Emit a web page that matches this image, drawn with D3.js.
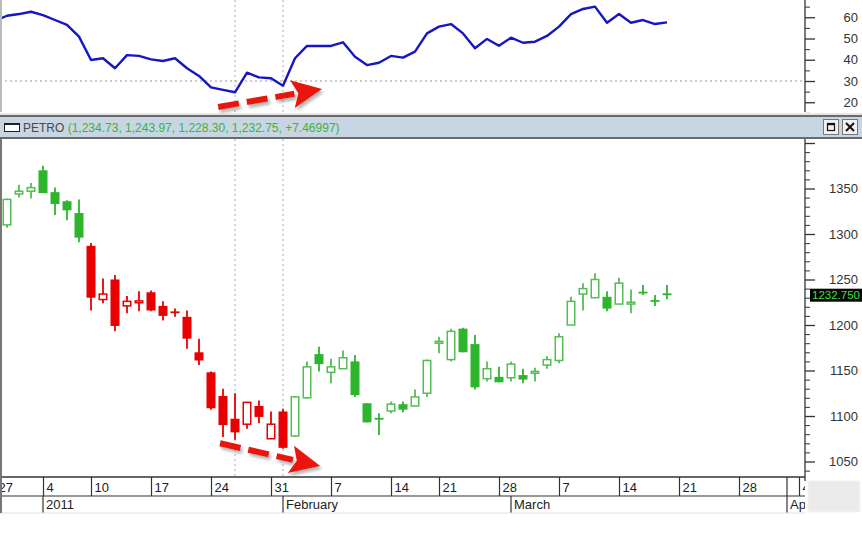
<!DOCTYPE html>
<html><head><meta charset="utf-8">
<script src="https://cdn.jsdelivr.net/npm/d3@7"></script>
<style>
body{margin:0;background:#fff;}
svg{display:block;font-family:"Liberation Sans",Arial,sans-serif;}
</style></head><body>
<svg id="c" width="862" height="534"></svg>
<script>
// ---------- DATA ----------
const tradingDays = [
 "2010-12-27","2010-12-28","2010-12-29","2010-12-30",
 "2011-01-04","2011-01-05","2011-01-06","2011-01-07",
 "2011-01-10","2011-01-11","2011-01-12","2011-01-13","2011-01-14",
 "2011-01-17","2011-01-18","2011-01-19","2011-01-20","2011-01-21",
 "2011-01-24","2011-01-25","2011-01-26","2011-01-27","2011-01-28",
 "2011-01-31","2011-02-01","2011-02-02","2011-02-03","2011-02-04",
 "2011-02-07","2011-02-08","2011-02-09","2011-02-10","2011-02-11",
 "2011-02-14","2011-02-15","2011-02-16","2011-02-17",
 "2011-02-21","2011-02-22","2011-02-23","2011-02-24","2011-02-25",
 "2011-02-28","2011-03-01","2011-03-02","2011-03-03","2011-03-04",
 "2011-03-07","2011-03-08","2011-03-09","2011-03-10","2011-03-11",
 "2011-03-14","2011-03-15","2011-03-16","2011-03-17","2011-03-18",
 "2011-03-21","2011-03-22","2011-03-23","2011-03-24","2011-03-25",
 "2011-03-28","2011-03-29","2011-03-30","2011-03-31","2011-04-01",
 "2011-04-04","2011-04-05"
];
const candleStart = "2010-12-28";
const opens  = [1310,1344,1347,1370,1346,1336,1323,1287,1228,1250,1221,1226,1236,1221,1215,1209,1170,1148,1122,1097,1091,1111,1075,1105,1078,1120,1168,1148,1152,1160,1114,1098,1105.5,1113,1111,1125,1181,1162,1196,1179,1141,1143,1142,1145,1148,1156,1161,1200,1234,1230,1231,1223,1224.5,1236.6,1227.5,1234.73];
const highs  = [1339,1354,1356,1375,1351,1337,1338,1290,1251,1255,1232,1237,1238,1226,1218,1216,1185,1149,1130,1125,1115,1117,1105,1108,1122,1160,1176,1163,1172,1167,1114,1103,1116,1116,1129,1162,1187,1196,1197,1189,1160,1154,1160,1152,1153,1166,1191,1231,1246,1257,1237,1252,1239,1244,1233,1243.97];
const lows   = [1307,1340,1339,1345,1321,1315,1291,1216,1224,1193,1213,1215,1215,1205,1209,1174,1156,1107,1077,1074,1086,1092,1075,1064,1077,1119,1149,1136,1152,1121,1093,1079,1103,1104,1111,1121,1169,1160,1170,1129,1138,1137,1138,1136,1138,1152,1158,1200,1216,1230,1215,1223,1213,1233,1221,1228.30];
const closes = [1338,1347,1351,1345,1333,1326,1296,1230,1234,1199,1226,1226.5,1216,1210,1213.5,1185,1161,1108.5,1090,1082,1115,1099,1091,1065,1121,1154,1157,1154,1164,1123,1093,1097.5,1113,1107,1121,1161,1182,1193,1170,1131.5,1152,1137,1157,1140,1149,1162,1187,1226,1240,1250,1218,1246,1225,1236,1227,1232.75];
const redFrom = "2011-01-10", redTo = "2011-02-01";

const rsiStart = "2010-12-27";
const rsiValues = [58.3,60.7,61.5,62.6,61,58.7,56.4,50.9,39.9,40.7,36,42.2,41.8,40.2,39.4,40.7,36,32.4,27,25.8,24.7,33.9,31.7,31.3,27.8,40.7,46.5,46.5,46.5,48.2,41.4,37.5,38.6,41.8,41,43.8,52.4,55.6,56.8,52.4,45.4,49.8,46.6,50.4,48,48.5,51.2,55.6,61.5,63.9,65,57.4,61.5,57.4,58.7,56.8,57.6];

const rsiTicks = [20,30,40,50,60];
const priceTicks = [1050,1100,1150,1200,1250,1300,1350,1400];
const priceLabels = [1050,1100,1150,1200,1250,1300,1350];
const monthLabels = [["2011-01-04","2011"],["2011-02-01","February"],["2011-03-01","March"],["2011-04-01","April"]];
const markerDays = ["2011-01-26","2011-02-01"];
const titleName = "PETRO";
const titleValues = "(1,234.73, 1,243.97, 1,228.30, 1,232.75, +7.46997)";
const lastPrice = 1232.75;
// annotation arrows: [dayIndex, value] from -> to
const rsiArrow = [[18.6,17.8],[27.25,26.2]];
const priceArrow = [[18.75,1070],[27.1,1045]];

// ---------- SETUP ----------
const svg = d3.select("#c");
const W = 862, axisX = 805;
const topP = {y0:0, y1:112};
const mainP = {y0:139, y1:477};

const x = d3.scaleLinear().domain([0, tradingDays.length-1]).range([-5, -5 + 12*(tradingDays.length-1)]);
const idx = d => tradingDays.indexOf(d);
const rsiY = d3.scaleLinear().domain([20,60]).range([102.25,17.25]);
const pY = d3.scaleLinear().domain([1050,1350]).range([461.5,188.5]);

const defs = svg.append("defs");
defs.append("clipPath").attr("id","clipTop").append("rect").attr("x",0).attr("y",topP.y0).attr("width",axisX).attr("height",topP.y1-topP.y0);
defs.append("clipPath").attr("id","clipMain").append("rect").attr("x",0).attr("y",mainP.y0).attr("width",axisX).attr("height",mainP.y1-mainP.y0);
defs.append("clipPath").attr("id","clipAxis").append("rect").attr("x",0).attr("y",477).attr("width",axisX).attr("height",40);
const f = defs.append("filter").attr("id","shadow").attr("x","-20%").attr("y","-50%").attr("width","140%").attr("height","200%");
f.append("feDropShadow").attr("dx",2).attr("dy",3).attr("stdDeviation",1.6).attr("flood-color","#777").attr("flood-opacity",0.55);

svg.append("rect").attr("width",W).attr("height",534).attr("fill","#fff");

// ---------- TOP PANEL (RSI) ----------
const gTop = svg.append("g").attr("clip-path","url(#clipTop)");
markerDays.forEach(d=>{
  gTop.append("line").attr("x1",x(idx(d))).attr("x2",x(idx(d))).attr("y1",topP.y0).attr("y2",topP.y1)
    .attr("stroke","#aaa").attr("stroke-dasharray","2,3");
});
gTop.append("line").attr("x1",0).attr("x2",axisX).attr("y1",rsiY(30)).attr("y2",rsiY(30))
  .attr("stroke","#999").attr("stroke-dasharray","2,3");
const r0 = idx(rsiStart);
gTop.append("path").datum(rsiValues)
  .attr("d", d3.line().x((v,i)=>x(r0+i)).y(v=>rsiY(v)))
  .attr("fill","none").attr("stroke","#1616c4").attr("stroke-width",2.4).attr("stroke-linejoin","round");

// RSI axis
const rsiMinor = d3.range(15,70,5).filter(v=>!rsiTicks.includes(v));
svg.append("g").attr("transform",`translate(${axisX},0)`)
  .call(d3.axisRight(rsiY).tickValues(rsiMinor).tickSize(5).tickFormat(""))
  .call(g=>g.select(".domain").remove()).selectAll("line").attr("stroke","#333");
const ra = svg.append("g").attr("transform",`translate(${axisX},0)`)
  .call(d3.axisRight(rsiY).tickValues(rsiTicks).tickSize(10));
ra.select(".domain").remove();
ra.selectAll("line").attr("stroke","#333").attr("stroke-width",1.3);
ra.selectAll("text").attr("x",53).attr("text-anchor","end").attr("font-size",13).attr("fill","#333")
  .attr("font-family","Liberation Sans, Arial, sans-serif");
svg.append("line").attr("x1",axisX).attr("x2",axisX).attr("y1",0).attr("y2",topP.y1).attr("stroke","#333").attr("stroke-width",1.3);
svg.append("line").attr("x1",1).attr("x2",1).attr("y1",0).attr("y2",topP.y1).attr("stroke","#bbb").attr("stroke-width",2);

// ---------- TITLE BAR ----------
svg.append("rect").attr("x",0).attr("y",113).attr("width",W).attr("height",3).attr("fill","#e6e6e6");
svg.append("rect").attr("x",0).attr("y",116).attr("width",W).attr("height",22).attr("fill","#c8d5e2");
svg.append("line").attr("x1",0).attr("x2",W).attr("y1",116).attr("y2",116).attr("stroke","#6a6a6a").attr("stroke-width",2);
svg.append("line").attr("x1",0).attr("x2",W).attr("y1",138).attr("y2",138).attr("stroke","#6a6a6a").attr("stroke-width",2);
svg.append("rect").attr("x",4.5).attr("y",123.5).attr("width",15).attr("height",8).attr("fill","#fff").attr("stroke","#222").attr("stroke-width",1);
svg.append("line").attr("x1",4.5).attr("x2",19.5).attr("y1",124).attr("y2",124).attr("stroke","#222").attr("stroke-width",2);
const tt = svg.append("text").attr("x",23).attr("y",132).attr("font-size",12);
tt.append("tspan").attr("fill","#4a4a4a").text(titleName + " ");
tt.append("tspan").attr("fill","#3cb43c").text(titleValues);
// buttons
[[823,"box"],[842,"x"]].forEach(([bx,kind])=>{
  svg.append("rect").attr("x",bx+0.5).attr("y",119.5).attr("width",15).attr("height",15).attr("fill","#f2f2f2").attr("stroke","#777");
  if(kind==="box"){
    svg.append("rect").attr("x",bx+4.5).attr("y",123.5).attr("width",7).attr("height",7).attr("fill","none").attr("stroke","#111").attr("stroke-width",1.2);
    svg.append("line").attr("x1",bx+4.5).attr("x2",bx+11.5).attr("y1",124.2).attr("y2",124.2).attr("stroke","#111").attr("stroke-width",2);
  } else {
    svg.append("path").attr("d",`M${bx+4},${123} L${bx+12},${131} M${bx+12},${123} L${bx+4},${131}`).attr("stroke","#111").attr("stroke-width",2);
  }
});

// ---------- MAIN PANEL ----------
const gMain = svg.append("g").attr("clip-path","url(#clipMain)");
markerDays.forEach(d=>{
  gMain.append("line").attr("x1",x(idx(d))).attr("x2",x(idx(d))).attr("y1",mainP.y0).attr("y2",mainP.y1)
    .attr("stroke","#aaa").attr("stroke-dasharray","2,3");
});
const c0 = idx(candleStart);
const candles = opens.map((o,i)=>({i:c0+i, date:tradingDays[c0+i], o, h:highs[i], l:lows[i], c:closes[i]}));
const rf = idx(redFrom), rt = idx(redTo);
const GREEN_FILL = "#2db52d", GREEN_LINE = "#55bd55", RED = "#e60000";
const bw = 9;
const cg = gMain.selectAll("g.candle").data(candles).enter().append("g");
cg.each(function(d){
  const g = d3.select(this);
  const red = d.i>=rf && d.i<=rt;
  const up = d.c >= d.o;
  const col = red ? RED : (up ? GREEN_LINE : GREEN_FILL);
  const cx = x(d.i);
  g.append("line").attr("x1",cx).attr("x2",cx).attr("y1",pY(d.h)).attr("y2",pY(d.l)).attr("stroke",col).attr("stroke-width",1.8);
  const top = pY(Math.max(d.o,d.c)), bot = pY(Math.min(d.o,d.c));
  const hgt = Math.max(bot-top, 1.8);
  if(up){
    g.append("rect").attr("x",cx-bw/2+0.75).attr("y",top).attr("width",bw-1.5).attr("height",hgt)
      .attr("fill","#fff").attr("stroke",col).attr("stroke-width",1.5);
  } else {
    g.append("rect").attr("x",cx-bw/2).attr("y",top).attr("width",bw).attr("height",hgt).attr("fill",col);
  }
});

// price axis
const pMinor = d3.range(1040,1410,10).filter(v=>!priceTicks.includes(v));
svg.append("g").attr("transform",`translate(${axisX},0)`)
  .call(d3.axisRight(pY).tickValues(pMinor.filter(v=>pY(v)>140 && pY(v)<477)).tickSize(5).tickFormat(""))
  .call(g=>g.select(".domain").remove()).selectAll("line").attr("stroke","#333");
const pa = svg.append("g").attr("transform",`translate(${axisX},0)`)
  .call(d3.axisRight(pY).tickValues(priceTicks).tickSize(10).tickFormat(v=>priceLabels.includes(v)?v:""));
pa.select(".domain").remove();
pa.selectAll("line").attr("stroke","#333").attr("stroke-width",1.3);
pa.selectAll("text").attr("x",53).attr("text-anchor","end").attr("font-size",13).attr("fill","#333")
  .attr("font-family","Liberation Sans, Arial, sans-serif");
svg.append("line").attr("x1",axisX).attr("x2",axisX).attr("y1",mainP.y0).attr("y2",481).attr("stroke","#333").attr("stroke-width",1.3);
// last price box
svg.append("rect").attr("x",810).attr("y",pY(lastPrice)-6.5).attr("width",52).attr("height",13).attr("fill","#050505");
svg.append("text").attr("x",836).attr("y",pY(lastPrice)+4).attr("text-anchor","middle").attr("font-size",11.5)
  .attr("fill","#3be03b").text(lastPrice.toFixed(3));

// ---------- X AXIS ----------
const gx = svg.append("g").attr("clip-path","url(#clipAxis)");
const weekStarts = tradingDays.filter((d,i)=> i===0 || +d3.timeMonday.floor(new Date(d+"T00:00")) !== +d3.timeMonday.floor(new Date(tradingDays[i-1]+"T00:00")));
const xa = gx.append("g").attr("transform","translate(0,477)")
  .call(d3.axisBottom(x).tickValues(weekStarts.map(idx)).tickSize(19)
    .tickFormat(i=>String(+tradingDays[i].slice(8))));
xa.select(".domain").remove();
xa.selectAll("line").attr("stroke","#333").attr("stroke-width",1.2);
xa.selectAll("text").attr("text-anchor","start").attr("x",3).attr("y",15).attr("dy",0)
  .attr("font-size",13).attr("fill","#222").attr("font-family","Liberation Sans, Arial, sans-serif");
monthLabels.forEach(([d,lab])=>{
  const mx = x(idx(d));
  gx.append("line").attr("x1",mx).attr("x2",mx).attr("y1",d==="2011-04-01"?477:496).attr("y2",513).attr("stroke","#333").attr("stroke-width",1.2);
  gx.append("text").attr("x",mx+3).attr("y",509).attr("font-size",13).attr("fill","#222").text(lab);
});
svg.append("line").attr("x1",0).attr("x2",axisX).attr("y1",477).attr("y2",477).attr("stroke","#333").attr("stroke-width",1.5);
svg.append("line").attr("x1",0).attr("x2",axisX).attr("y1",496).attr("y2",496).attr("stroke","#333").attr("stroke-width",1.2);
svg.append("line").attr("x1",0).attr("x2",axisX).attr("y1",513).attr("y2",513).attr("stroke","#e0e0e0").attr("stroke-width",1);
svg.append("line").attr("x1",1).attr("x2",1).attr("y1",mainP.y0).attr("y2",513).attr("stroke","#777").attr("stroke-width",2);
svg.append("rect").attr("x",808).attr("y",481).attr("width",52).attr("height",31).attr("fill","#ebebeb").attr("stroke","#f4f4f4");

// ---------- ANNOTATION ARROWS ----------
function arrow(p1,p2){
  const [x1,y1]=p1,[x2,y2]=p2;
  const dx=x2-x1, dy=y2-y1, len=Math.hypot(dx,dy), ux=dx/len, uy=dy/len, nx=-uy, ny=ux;
  const L=30, Wd=14;
  const bx=x2-ux*L, by=y2-uy*L;
  const g = svg.append("g").attr("filter","url(#shadow)");
  g.append("line").attr("x1",x1).attr("y1",y1).attr("x2",bx+ux*2).attr("y2",by+uy*2)
    .attr("stroke","#e8140c").attr("stroke-width",6).attr("stroke-dasharray","21,8");
  g.append("path").attr("d",`M${x2},${y2} L${bx+nx*Wd},${by+ny*Wd} L${bx+ux*6},${by+uy*6} L${bx-nx*Wd},${by-ny*Wd} Z`).attr("fill","#e8140c");
}
arrow([x(rsiArrow[0][0]),rsiY(rsiArrow[0][1])],[x(rsiArrow[1][0]),rsiY(rsiArrow[1][1])]);
arrow([x(priceArrow[0][0]),pY(priceArrow[0][1])],[x(priceArrow[1][0]),pY(priceArrow[1][1])]);
</script>
</body></html>
